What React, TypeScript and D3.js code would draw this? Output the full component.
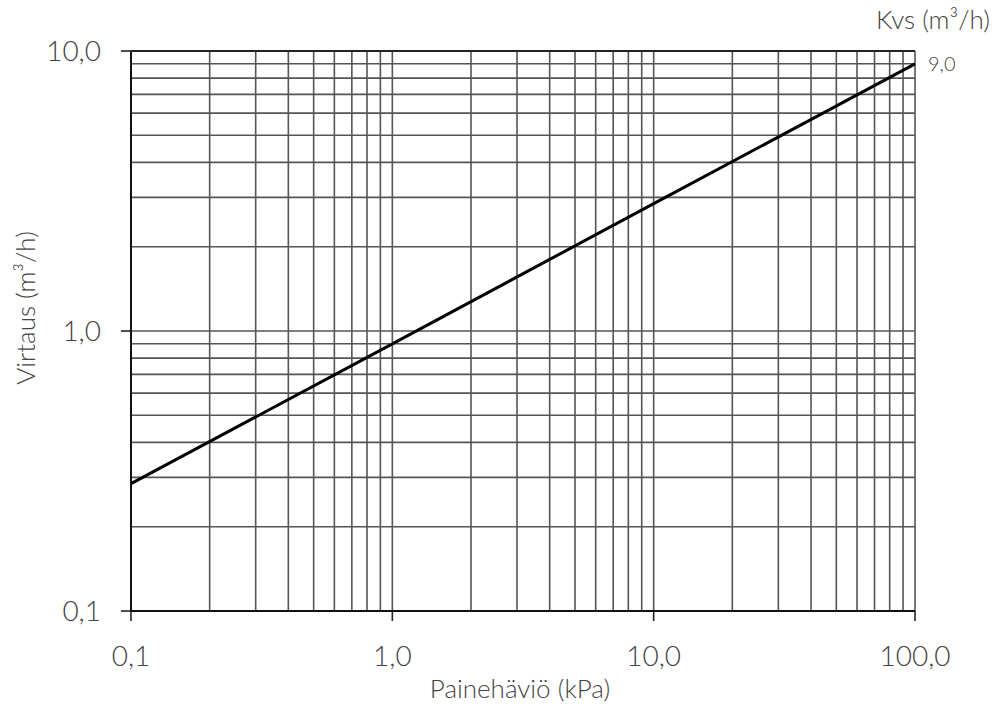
import React from "react";
import * as d3 from "d3";

const pressureKPa = [0.1, 1, 10, 100];
const flowM3h = [0.285, 0.9, 2.85, 9.0];
const xTickValues = [0.1, 1, 10, 100];
const xTickLabels = ["0,1", "1,0", "10,0", "100,0"];
const yTickValues = [0.1, 1, 10];
const yTickLabels = ["0,1", "1,0", "10,0"];
const kvsLabel = "9,0";

const W = 1000, H = 719;
const M = { left: 131, right: 915, top: 51, bottom: 611 };
const FONT = "Lato, 'Open Sans', sans-serif";
const TXT = "#444";
const GRID = "#555";

export default function App() {
  const x = d3.scaleLog().domain([0.1, 100]).range([M.left, M.right]);
  const y = d3.scaleLog().domain([0.1, 10]).range([M.bottom, M.top]);
  const xGrid: number[] = [];
  for (const d of [0.1, 1, 10]) for (let k = 2; k <= 10; k++) xGrid.push(d * k);
  const yGrid: number[] = [];
  for (const d of [0.1, 1]) for (let k = 2; k <= 10; k++) yGrid.push(d * k);
  const line = d3.line<number>().x((_, i) => x(pressureKPa[i])).y((d) => y(d));

  return (
    <svg width={W} height={H} style={{ position: "absolute", left: 0, top: 0, background: "#fff" }}>
      <rect width={W} height={H} fill="#fff" />
      {xGrid.map((v) => (
        <line key={"xm" + v} x1={x(v)} x2={x(v)} y1={M.top} y2={M.bottom} stroke={GRID} strokeWidth={1.6} />
      ))}
      {yGrid.map((v) => (
        <line key={"ym" + v} x1={M.left} x2={M.right} y1={y(v)} y2={y(v)} stroke={GRID} strokeWidth={1.6} />
      ))}
      {xTickValues.map((v) => (
        <line key={"xt" + v} x1={x(v)} x2={x(v)} y1={M.bottom} y2={M.bottom + 10} stroke="#222" strokeWidth={1.6} />
      ))}
      {yTickValues.map((v) => (
        <line key={"yt" + v} x1={M.left - 10} x2={M.left} y1={y(v)} y2={y(v)} stroke="#222" strokeWidth={1.6} />
      ))}
      <line x1={M.left} x2={M.left} y1={M.top} y2={M.bottom} stroke="#111" strokeWidth={2} />
      <line x1={M.left} x2={M.right} y1={M.bottom} y2={M.bottom} stroke="#111" strokeWidth={2} />
      <line x1={M.left} x2={M.right} y1={M.top} y2={M.top} stroke="#222" strokeWidth={1.8} />
      <path d={line(flowM3h) || ""} fill="none" stroke="#000" strokeWidth={3} />
      {xTickValues.map((v, i) => (
        <text key={"xl" + v} x={x(v)} y={666} textAnchor="middle" fontFamily={FONT} fontWeight={300} fontSize={28} fill={TXT}>
          {xTickLabels[i]}
        </text>
      ))}
      {yTickValues.map((v, i) => (
        <text key={"yl" + v} x={101} y={y(v) + 10} textAnchor="end" fontFamily={FONT} fontWeight={300} fontSize={28} fill={TXT}>
          {yTickLabels[i]}
        </text>
      ))}
      <text x={520} y={698} textAnchor="middle" fontFamily={FONT} fontWeight={300} fontSize={26} fill={TXT}>
        Painehäviö (kPa)
      </text>
      <text
        transform={`translate(35, 308) rotate(-90)`}
        textAnchor="middle"
        fontFamily={FONT}
        fontWeight={300}
        fontSize={26}
        fill={TXT}
      >
        Virtaus (m³/h)
      </text>
      <text x={990} y={29} textAnchor="end" fontFamily={FONT} fontWeight={300} fontSize={26} fill={TXT}>
        Kvs (m³/h)
      </text>
      <text x={928} y={y(flowM3h[flowM3h.length - 1]) + 7} fontFamily={FONT} fontWeight={300} fontSize={20} fill={TXT}>
        {kvsLabel}
      </text>
    </svg>
  );
}
